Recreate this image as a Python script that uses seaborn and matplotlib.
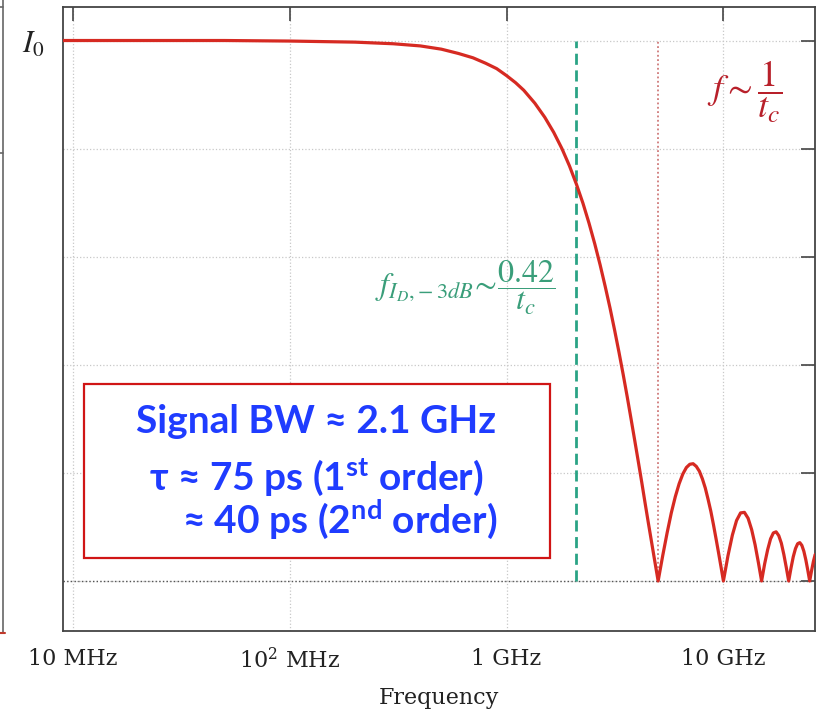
import matplotlib
matplotlib.use("Agg")
import matplotlib.pyplot as plt
import seaborn as sns
import pandas as pd
from matplotlib.lines import Line2D
from matplotlib.patches import Rectangle
from matplotlib.ticker import FixedLocator, FixedFormatter, NullLocator

# Photodiode current response vs. frequency (normalised to I0)
freq_ghz = [0.009, 0.02, 0.05, 0.1, 0.2, 0.3, 0.4, 0.5, 0.6, 0.7, 0.8, 0.9,
            1.0, 1.1, 1.2, 1.35, 1.5, 1.65, 1.8, 1.95, 2.1, 2.25, 2.4, 2.55,
            2.7, 2.85, 3.0, 3.15, 3.3, 3.45, 3.6, 3.75, 3.9, 4.05, 4.2, 4.35,
            4.5, 4.65, 4.8, 5.0,
            5.25, 5.5, 5.75, 6.0, 6.25, 6.5, 6.75, 7.0, 7.25, 7.5, 7.75, 8.0,
            8.25, 8.5, 8.75, 9.0, 9.25, 9.5, 9.75, 10.0,
            10.5, 11.0, 11.5, 12.0, 12.5, 13.0, 13.5, 14.0, 14.5, 15.0,
            15.5, 16.0, 16.5, 17.0, 17.5, 18.0, 18.5, 19.0, 19.5, 20.0,
            20.5, 21.0, 21.5, 22.0, 22.5, 23.0, 23.5, 24.0, 24.5, 25.0,
            25.5, 26.0, 26.5]
response = [1.000, 1.000, 1.000, 0.999, 0.997, 0.994, 0.990, 0.984, 0.976, 0.968, 0.958, 0.948,
            0.935, 0.922, 0.908, 0.884, 0.858, 0.830, 0.800, 0.768, 0.734, 0.699, 0.662, 0.624,
            0.585, 0.545, 0.505, 0.464, 0.423, 0.382, 0.341, 0.300, 0.260, 0.221, 0.183, 0.145,
            0.109, 0.075, 0.042, 0.000,
            0.047, 0.089, 0.126, 0.156, 0.180, 0.198, 0.210, 0.216, 0.217, 0.212, 0.203, 0.189,
            0.172, 0.151, 0.129, 0.104, 0.078, 0.052, 0.026, 0.000,
            0.047, 0.085, 0.112, 0.126, 0.127, 0.116, 0.095, 0.067, 0.034, 0.000,
            0.032, 0.058, 0.078, 0.089, 0.091, 0.084, 0.070, 0.049, 0.025, 0.000,
            0.024, 0.045, 0.060, 0.069, 0.071, 0.066, 0.055, 0.039, 0.020, 0.000,
            0.019, 0.036, 0.049]

# Marker frequencies
f_3db_ghz = 2.1       # -3 dB bandwidth, 0.42 / t_c
f_null_ghz = 5.0      # first null, 1 / t_c

x_tick_vals = [0.01, 0.1, 1.0, 10.0]
x_tick_labels = ["10 MHz", r"10$^2$ MHz", "1 GHz", "10 GHz"]
y_tick_vals = [0.0, 0.2, 0.4, 0.6, 0.8, 1.0]
y_tick_labels = ["", "", "", "", "", r"$I_0$"]

box_lines = ["Signal BW \u2248 2.1 GHz",
             "\u03c4 \u2248 75 ps (1$^{\\mathrm{st}}$ order)",
             "\u2248 40 ps (2$^{\\mathrm{nd}}$ order)"]

sns.set_theme(style="white")
plt.rcParams["font.family"] = ["DejaVu Serif"]
plt.rcParams["mathtext.fontset"] = "stix"
plt.rcParams["mathtext.rm"] = "Lato:bold"
plt.rcParams["mathtext.it"] = "Lato:italic:bold"
plt.rcParams["mathtext.bf"] = "Lato:bold"

W, H = 833, 713
fig = plt.figure(figsize=(W / 100, H / 100), dpi=100)
ax = fig.add_axes([63 / W, 1 - 631 / H, (815 - 63) / W, (631 - 7) / H])

df = pd.DataFrame({"freq": freq_ghz, "resp": response})
sns.lineplot(data=df, x="freq", y="resp", ax=ax, color="#d62a22", lw=2.3, zorder=5)

ax.set_xscale("log")
ax.set_xlim(0.009, 26.45)
ax.set_ylim(-0.0925, 1.062)

# grid and zero reference
ax.grid(True, which="major", ls=":", color="#c8c8c8", lw=0.9)
ax.axhline(0.0, ls=":", color="#555555", lw=1.0, zorder=2)

# bandwidth and first-null markers
ax.vlines(f_3db_ghz, 0.0, 1.0, colors="#2aa385", linestyles=(0, (4, 2)), lw=2.0, zorder=4)
ax.vlines(f_null_ghz, 0.0, 1.0, colors="#cf7a7a", linestyles=(0, (1, 1.4)), lw=1.3, zorder=3)

ax.xaxis.set_major_locator(FixedLocator(x_tick_vals))
ax.xaxis.set_major_formatter(FixedFormatter(x_tick_labels))
ax.xaxis.set_minor_locator(NullLocator())
ax.yaxis.set_major_locator(FixedLocator(y_tick_vals))
ax.yaxis.set_major_formatter(FixedFormatter(y_tick_labels))

ax.tick_params(axis="both", which="major", direction="in", length=10, width=1.2,
               color="#444444", top=True, right=True, labelsize=16, labelcolor="#222222")
ax.tick_params(axis="x", pad=12)
ax.tick_params(axis="y", pad=13, labelsize=22)
for lab in ax.get_xticklabels():
    lab.set_math_fontfamily("dejavuserif")
for lab in ax.get_yticklabels():
    lab.set_math_fontfamily("stix")

for s in ax.spines.values():
    s.set_color("#444444")
    s.set_linewidth(1.3)

ax.set_xlabel("Frequency", fontsize=16, color="#222222", labelpad=10)
ax.set_ylabel("")

# formula annotations
fig.text(745 / W, 1 - 92 / H, r"$f\sim\dfrac{1}{t_c}$", color="#b8202a", fontsize=26,
         ha="center", va="center", math_fontfamily="stix")
fig.text(465 / W, 1 - 288 / H, r"$f_{I_D,\!-3dB}\!\sim\!\dfrac{0.42}{t_c}$", color="#3a9e7a",
         fontsize=23, ha="center", va="center", math_fontfamily="stix")

# summary box
fig.add_artist(Rectangle((84 / W, 1 - 558 / H), (550 - 84) / W, (558 - 384) / H,
                         transform=fig.transFigure, facecolor="white",
                         edgecolor="#d01515", lw=1.6, zorder=6))
box_pos = [(316, 433), (316, 490), (340, 533)]
for txt, (px, py) in zip(box_lines, box_pos):
    fig.text(px / W, 1 - py / H, txt, color="#1f3cff", fontsize=28, fontweight="bold",
             family=["Lato", "DejaVu Sans"], ha="center", va="baseline",
             math_fontfamily="custom", zorder=7)

# neighbouring panel edge on the far left
fig.add_artist(Line2D([3 / W, 3 / W], [1.0, 1 - 632 / H], transform=fig.transFigure,
                      color="#666666", lw=1.2))
for ty in (7, 153):
    fig.add_artist(Line2D([0, 3 / W], [1 - ty / H, 1 - ty / H], transform=fig.transFigure,
                          color="#666666", lw=1.2))
fig.add_artist(Line2D([0, 5 / W], [1 - 633 / H, 1 - 633 / H], transform=fig.transFigure,
                      color="#c0392b", lw=1.5))

fig.savefig("out.png", dpi=100)
